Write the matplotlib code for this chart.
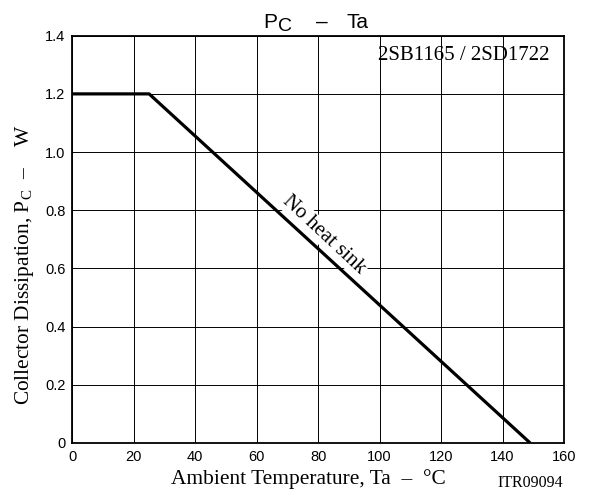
import matplotlib
matplotlib.use("Agg")
import matplotlib.pyplot as plt

# derating curve Pc vs Ta
temp = [0, 25, 149]
power = [1.2, 1.2, 0.0]

x_ticks = [0, 20, 40, 60, 80, 100, 120, 140, 160]
y_ticks = [0, 0.2, 0.4, 0.6, 0.8, 1.0, 1.2, 1.4]
y_tick_labels = ["0", "0.2", "0.4", "0.6", "0.8", "1.0", "1.2", "1.4"]

plt.rcParams['font.family'] = ['Liberation Sans', 'DejaVu Sans']
plt.rcParams['mathtext.fontset'] = 'custom'
plt.rcParams['mathtext.rm'] = 'Liberation Serif'
plt.rcParams['mathtext.sf'] = 'Liberation Sans'

W, H = 591, 498
fig = plt.figure(figsize=(W / 100, H / 100), dpi=100)
ax = fig.add_axes([72.3 / W, 1 - 443 / H, (564 - 72.3) / W, (443 - 35.7) / H])

ax.plot(temp, power, color='black', linewidth=2.3, solid_capstyle='butt', zorder=3)

ax.set_xlim(0, 160)
ax.set_ylim(0, 1.4)
ax.set_xticks(x_ticks)
ax.set_yticks(y_ticks)
ax.set_yticklabels(y_tick_labels)
ax.tick_params(length=0, labelsize=10.5, pad=5)
ax.grid(True, color='black', linewidth=0.7)
ax.set_axisbelow(True)
for s in ax.spines.values():
    s.set_linewidth(1.3)

serif = ['Liberation Serif', 'DejaVu Serif']
ax.set_xlabel("Ambient Temperature, Ta  –  °C", family=serif, fontsize=15.4)
ax.xaxis.set_label_coords(0.481, -0.065)
ax.set_ylabel("Collector Dissipation, P$_\\mathrm{C}$  –    W", family=serif, fontsize=15.4)
ax.yaxis.set_label_coords(-0.074, 0.437)

# title "Pc - Ta" with a large subscript C
def px(x, y):
    return x / W, 1 - y / H

fig.text(*px(263, 27.5), "P", fontsize=15, ha='left', va='baseline')
fig.text(*px(278, 31), "C", fontsize=14, ha='left', va='baseline')
fig.text(*px(316, 27.5), "–", fontsize=15, ha='left', va='baseline')
fig.text(*px(346, 27.5), "Ta", fontsize=15, ha='left', va='baseline')

ax.text(0.9715, 0.940, "2SB1165 / 2SD1722", transform=ax.transAxes, ha='right', va='baseline',
        family=serif, fontsize=15)
ax.text(82, 0.715, "No heat sink", rotation=-43, ha='center', va='center',
        rotation_mode='anchor', family=serif, fontsize=15,
        bbox=dict(facecolor='white', edgecolor='none', pad=1))
fig.text(*px(530, 483), "ITR09094", ha='center', va='center',
         family=serif, fontsize=11.5)

fig.savefig("out.png", dpi=100)
